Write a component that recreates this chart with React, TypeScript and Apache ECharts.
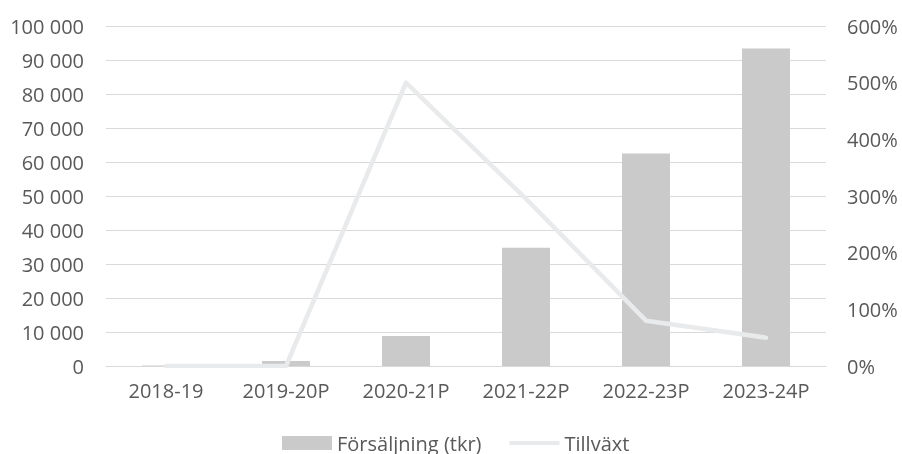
import React, { useEffect, useRef } from "react";
import * as echarts from "echarts";

const categories = ["2018-19", "2019-20P", "2020-21P", "2021-22P", "2022-23P", "2023-24P"];
const sales = [150, 1450, 8800, 34800, 62500, 93400];
const growth = [0, 0, 5.0, 2.95, 0.8, 0.5];

const FONT = "'Open Sans', 'Noto Sans', sans-serif";
const TEXT = "#595959";
const FS = 20;

export default function App() {
  const ref = useRef<HTMLDivElement>(null);

  useEffect(() => {
    if (!ref.current) return;
    const chart = echarts.init(ref.current, undefined, { renderer: "svg" });
    chart.setOption({
      animation: false,
      textStyle: { fontFamily: FONT, color: TEXT },
      grid: { left: 106, right: 76, top: 26, bottom: 88, containLabel: false },
      legend: {
        top: 433,
        left: 282,
        padding: 0,
        itemWidth: 50,
        itemHeight: 14,
        itemGap: 28,
        symbolKeepAspect: true,
        selectedMode: false,
        textStyle: { fontFamily: FONT, color: TEXT, fontSize: FS, padding: [0, 0, 20, 0] },
        data: [
          { name: "Försäljning (tkr)", icon: "rect" },
          { name: "Tillväxt", icon: "path://M0,0H56V4.5H0Z" },
        ],
      },
      xAxis: {
        type: "category",
        data: categories,
        axisLine: { show: true, lineStyle: { color: "#d9d9d9", width: 1 } },
        axisTick: { show: false },
        axisLabel: { color: TEXT, fontFamily: FONT, fontSize: FS, margin: 14 },
      },
      yAxis: [
        {
          type: "value",
          min: 0,
          max: 100000,
          interval: 10000,
          axisLine: { show: false },
          axisTick: { show: false },
          splitLine: { lineStyle: { color: "#d9d9d9", width: 1 } },
          axisLabel: {
            color: TEXT,
            fontFamily: FONT,
            fontSize: FS,
            margin: 22,
            formatter: (v: number) => String(v).replace(/\B(?=(\d{3})+(?!\d))/g, " "),
          },
        },
        {
          type: "value",
          min: 0,
          max: 6,
          interval: 1,
          position: "right",
          axisLine: { show: false },
          axisTick: { show: false },
          splitLine: { show: false },
          axisLabel: {
            color: TEXT,
            fontFamily: FONT,
            fontSize: FS,
            margin: 21,
            formatter: (v: number) => `${Math.round(v * 100)}%`,
          },
        },
      ],
      series: [
        {
          name: "Försäljning (tkr)",
          type: "bar",
          data: sales,
          barWidth: "40%",
          itemStyle: { color: "#c9cac9" },
          yAxisIndex: 0,
        },
        {
          name: "Tillväxt",
          type: "line",
          data: growth,
          yAxisIndex: 1,
          symbol: "none",
          showSymbol: false,
          lineStyle: { color: "#e9eaeb", width: 4.5, cap: "round", join: "round" },
          itemStyle: { color: "#e9eaeb" },
        },
      ],
    });
    return () => chart.dispose();
  }, []);

  return (
    <div
      ref={ref}
      style={{ position: "fixed", left: 0, top: 0, width: 902, height: 454 }}
    />
  );
}
